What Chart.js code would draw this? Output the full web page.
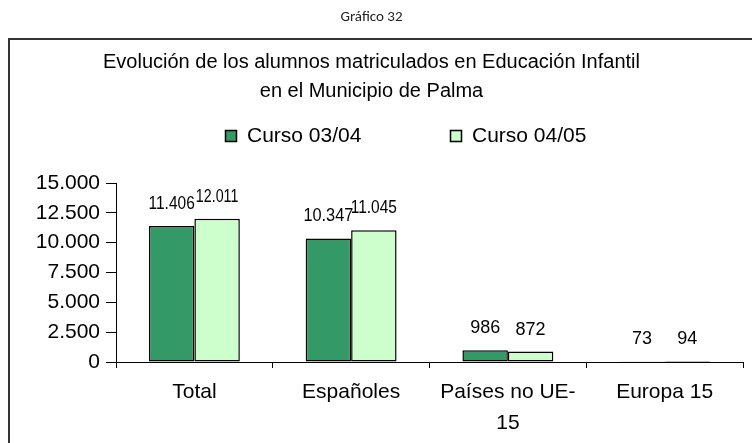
<!DOCTYPE html>
<html>
<head>
<meta charset="utf-8">
<script src="https://cdn.jsdelivr.net/npm/chart.js@4/dist/chart.umd.min.js"></script>
<style>
    html, body { margin: 0; padding: 0; background: #fff; overflow: hidden; }
    #wrap { position: relative; width: 752px; height: 443px; }
</style>
</head>
<body>
<div id="wrap"><canvas id="grafico"></canvas></div>
<script>
    var categorias = ['Total', 'Españoles', ['Países no UE-', '15'], 'Europa 15'];
    var curso0304 = [11406, 10347, 986, 73];
    var curso0405 = [12011, 11045, 872, 94];
    var ticksY = [0, 2500, 5000, 7500, 10000, 12500, 15000];

    function miles(v) {
        return String(v).replace(/\B(?=(\d{3})+(?!\d))/g, '.');
    }

    //frame round the chart
    var marco = {
        id: 'marco',
        beforeDraw: function (chart) {
            var ctx = chart.ctx;
            ctx.save();
            ctx.strokeStyle = '#333';
            ctx.lineWidth = 2;
            ctx.strokeRect(9, 39, 800, 500);
            ctx.restore();
        }
    };

    //legend drawn by hand so it sits where the original has it
    var leyenda = {
        id: 'leyenda',
        afterDraw: function (chart) {
            var ctx = chart.ctx;
            var x0 = chart.chartArea.left + 109;
            ctx.save();
            ctx.font = '21px "Liberation Sans", Arial, sans-serif';
            ctx.textBaseline = 'middle';
            chart.data.datasets.forEach(function (ds, i) {
                var x = x0 + i * 225;
                ctx.fillStyle = ds.backgroundColor;
                ctx.fillRect(x, 130, 11, 11);
                ctx.strokeStyle = '#000';
                ctx.lineWidth = 1.5;
                ctx.strokeRect(x + 0.5, 130.5, 11, 11);
                ctx.fillStyle = '#000';
                ctx.fillText(ds.label, x + 22, 136);
            });
            ctx.restore();
        }
    };

    //value labels above bars; the original draws its "1" and "." narrow,
    //so each label is squeezed to that width
    var etiquetas = {
        id: 'etiquetas',
        afterDatasetsDraw: function (chart) {
            var ctx = chart.ctx;
            var size = 18;
            ctx.save();
            ctx.font = size + 'px "Liberation Sans", Arial, sans-serif';
            ctx.textAlign = 'center';
            ctx.textBaseline = 'middle';
            ctx.fillStyle = '#000';
            chart.data.datasets.forEach(function (ds, i) {
                var meta = chart.getDatasetMeta(i);
                meta.data.forEach(function (bar, j) {
                    var txt = miles(ds.data[j]);
                    var ancho = 0;
                    txt.split('').forEach(function (c) {
                        ancho += c === '1' ? 0.35 : (c === '.' ? 0.2 : 0.556);
                    });
                    var k = Math.min(1, ancho * size / ctx.measureText(txt).width);
                    ctx.save();
                    ctx.translate(bar.x, bar.y - 22);
                    ctx.scale(k, 1);
                    ctx.fillText(txt, 0, 0);
                    ctx.restore();
                });
            });
            ctx.restore();
        }
    };

    new Chart(document.getElementById('grafico'), {
        type: 'bar',
        data: {
            labels: categorias,
            datasets: [{
                label: 'Curso 03/04',
                data: curso0304,
                backgroundColor: '#339966',
                borderColor: '#000',
                borderWidth: 1.5,
                borderSkipped: false
            }, {
                label: 'Curso 04/05',
                data: curso0405,
                backgroundColor: '#CCFFCC',
                borderColor: '#000',
                borderWidth: 1.5,
                borderSkipped: false
            }]
        },
        options: {
            responsive: true,
            maintainAspectRatio: false,
            animation: false,
            layout: {
                padding: {left: 0, right: 9, top: 0, bottom: 0}
            },
            datasets: {
                bar: {
                    barPercentage: 1,
                    categoryPercentage: 0.58
                }
            },
            plugins: {
                legend: {display: false},
                tooltip: {enabled: false},
                title: {
                    display: true,
                    text: 'Gráfico 32',
                    color: '#222',
                    font: {family: 'Carlito, Lato, sans-serif', size: 15, weight: 'normal', lineHeight: 1.2},
                    padding: {top: 8, bottom: 22}
                },
                subtitle: {
                    display: true,
                    text: ['Evolución de los alumnos matriculados en Educación Infantil', 'en el Municipio de Palma'],
                    color: '#000',
                    font: {family: '"Liberation Sans", Arial, sans-serif', size: 20, lineHeight: 1.45},
                    padding: {top: 0, bottom: 77}
                }
            },
            scales: {
                x: {
                    afterFit: function (scale) {
                        scale.height = 81;
                    },
                    border: {color: '#000', width: 1},
                    grid: {
                        offset: true,
                        drawOnChartArea: false,
                        color: '#000',
                        tickLength: 6
                    },
                    ticks: {
                        color: '#000',
                        padding: 8,
                        maxRotation: 0,
                        font: {family: '"Liberation Sans", Arial, sans-serif', size: 21, lineHeight: 1.5}
                    }
                },
                y: {
                    min: 0,
                    max: 15000,
                    afterFit: function (scale) {
                        scale.width = 116;
                    },
                    afterBuildTicks: function (scale) {
                        scale.ticks = ticksY.map(function (v) { return {value: v}; });
                    },
                    border: {color: '#000', width: 1},
                    grid: {
                        drawOnChartArea: false,
                        color: '#000',
                        tickLength: 10
                    },
                    ticks: {
                        color: '#000',
                        padding: 6,
                        font: {family: '"Liberation Sans", Arial, sans-serif', size: 21},
                        callback: function (v) {
                            return miles(v);
                        }
                    }
                }
            }
        },
        plugins: [marco, leyenda, etiquetas]
    });
</script>
</body>
</html>
